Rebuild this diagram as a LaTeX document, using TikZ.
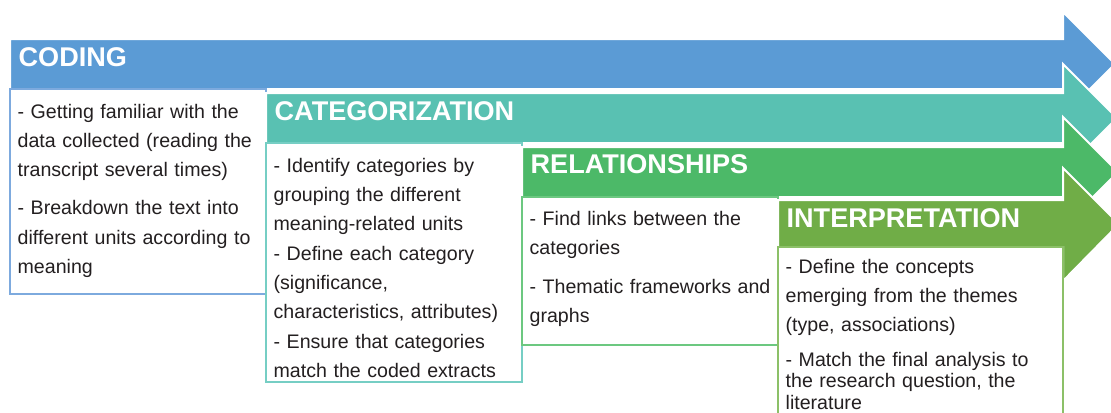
\documentclass[tikz,border=0pt]{standalone}
\usepackage{fontspec}
\setmainfont{Liberation Sans}
\usepackage{xcolor}
\usepackage{tikz}

\definecolor{codeblue}{RGB}{91,155,213}
\definecolor{catteal}{RGB}{89,193,178}
\definecolor{relgreen}{RGB}{76,185,104}
\definecolor{intolive}{RGB}{112,173,71}
\definecolor{codeline}{RGB}{125,170,222}
\definecolor{catline}{RGB}{118,206,196}
\definecolor{relline}{RGB}{108,200,128}
\definecolor{intline}{RGB}{140,192,104}
\definecolor{bodytext}{RGB}{35,31,32}

\begin{document}
\begin{tikzpicture}[x=0.75pt, y=-0.75pt, line width=1pt,
    stage/.style={anchor=base west, inner sep=0, text=white,
      font=\fontsize{20.3}{24}\selectfont\bfseries},
    notes/.style={anchor=base west, inner sep=0, text=bodytext, align=left,
      text width=186pt, font=\fontsize{14.7}{22}\selectfont}]
    \useasboundingbox (0, 0) rectangle (1111, 412);
    \clip (0, 0) rectangle (1111, 412);

    % draw coding arrow and its box
    \filldraw[fill = codeblue, draw = white, line width = 1.5pt]
      (10, 39) -- (1063, 39) -- (1063, 12) -- (1115, 64)
	       -- (1063, 116) -- (1063, 89) -- (10, 89) -- cycle;
    \filldraw[fill = white, draw = codeline, line width = 1.1pt] (10, 89) rectangle (266, 294);
    \node[stage] (coding) at (18, 66) {CODING};
    \node[notes] (codingnotes) at (17, 118)
      {- Getting familiar with the\\ data collected (reading the\\ transcript several times)\\[6.5pt]
       - Breakdown the text into\\ different units according to\\ meaning};

    % draw categorization arrow and its box
    \filldraw[fill = catteal, draw = white, line width = 1.5pt]
      (266, 93) -- (1063, 93) -- (1063, 64) -- (1117, 118)
	       -- (1063, 172) -- (1063, 143) -- (266, 143) -- cycle;
    \filldraw[fill = white, draw = catline, line width = 1.1pt] (266, 143) rectangle (522, 382);
    \node[stage] (categorization) at (274, 120) {CATEGORIZATION};
    \node[notes] (categorizationnotes) at (273, 172)
      {- Identify categories by\\ grouping the different\\ meaning-related units\\
       - Define each category\\ (significance,\\ characteristics, attributes)\\
       - Ensure that categories\\ match the coded extracts};

    % draw relationships arrow and its box
    \filldraw[fill = relgreen, draw = white, line width = 1.5pt]
      (522, 147) -- (1063, 147) -- (1063, 117) -- (1118, 172)
	       -- (1063, 227) -- (1063, 197) -- (522, 197) -- cycle;
    \filldraw[fill = white, draw = relline, line width = 1.1pt] (522, 197) rectangle (778, 345);
    \node[stage] (relationships) at (530, 173) {RELATIONSHIPS};
    \node[notes] (relationshipsnotes) at (529, 225)
      {- Find links between the\\ categories\\[7pt]
       - Thematic frameworks and\\ graphs};

    % draw interpretation arrow and its box
    \filldraw[fill = intolive, draw = white, line width = 1.5pt]
      (778, 200) -- (1063, 200) -- (1063, 168) -- (1119, 224)
	       -- (1063, 281) -- (1063, 247) -- (778, 247) -- cycle;
    \filldraw[fill = white, draw = intline, line width = 1.1pt] (778, 247) rectangle (1063, 430);
    \node[stage] (interpretation) at (786, 227) {INTERPRETATION};
    \node[notes, text width=205pt] (interpretationnotes) at (785, 273)
      {- Define the concepts\\ emerging from the themes\\ (type, associations)\\[4pt]
       - Match the final analysis to\\[-5.9pt] the research question, the\\[-5.9pt] literature};
\end{tikzpicture}
\end{document}
